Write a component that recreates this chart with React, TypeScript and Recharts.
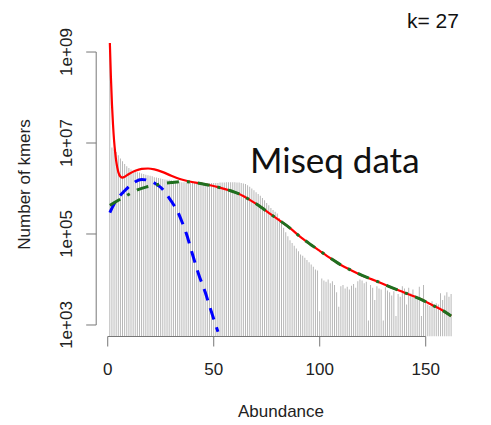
import React from 'react';
import { ComposedChart, Bar, Line, XAxis, YAxis, ReferenceLine, Customized } from 'recharts';

// Abundance categories (1..162)
const abundance: number[] = Array.from({ length: 162 }, (_, i) => i + 1);

// Histogram counts, log10 scale
const histLog10: number[] = [
  9.08, 6.90, 6.86, 6.80, 6.73, 6.66, 6.60, 6.54, 6.49, 6.45,
  6.42, 6.40, 6.38, 6.36, 6.35, 6.33, 6.32, 6.30, 6.29, 6.28,
  6.27, 6.25, 6.24, 6.23, 6.22, 6.21, 6.20, 6.19, 6.19, 6.18,
  6.17, 6.16, 6.16, 6.15, 6.14, 6.14, 6.13, 6.13, 6.12, 6.12,
  6.12, 6.11, 6.11, 6.11, 6.11, 6.11, 6.11, 6.11, 6.12, 6.12,
  6.12, 6.12, 6.13, 6.13, 6.13, 6.14, 6.14, 6.14, 6.14, 6.14,
  6.13, 6.13, 6.12, 6.11, 6.10, 6.07, 6.04, 6.00, 5.96, 5.92,
  5.88, 5.84, 5.79, 5.74, 5.68, 5.63, 5.57, 5.53, 5.49, 5.45,
  5.35, 5.25, 5.14, 5.04, 4.95, 4.86, 4.80, 4.74, 4.68, 4.62,
  4.55, 4.52, 4.48, 4.43, 4.38, 4.33, 4.28, 4.22, 4.20, 3.30,
  4.02, 3.98, 3.95, 4.00, 3.92, 3.96, 3.88, 3.72, 3.40, 3.85,
  3.88, 3.80, 3.84, 3.78, 3.86, 3.90, 3.82, 3.96, 4.00, 3.98,
  3.92, 3.95, 3.10, 3.88, 3.82, 3.55, 3.85, 3.80, 3.78, 3.10,
  3.83, 3.76, 3.72, 3.65, 3.74, 3.20, 3.68, 3.62, 3.85, 3.80,
  3.45, 3.82, 3.70, 3.78, 3.66, 3.60, 3.84, 3.20, 3.88, 3.50,
  3.45, 3.42, 3.52, 3.40, 3.48, 3.45, 3.70, 3.55, 3.65, 3.72,
  3.62, 3.68,
];

// Full model fit (red), log10
const fullX: number[] = [1, 1.5, 2, 2.5, 3, 3.5, 4, 5, 6, 7, 8, 10, 13, 16, 19, 22, 26, 30, 34, 38, 45, 52, 58, 62, 67, 72, 77, 81, 86, 91, 96, 100, 105, 110, 115, 120, 128, 134, 140, 147, 153, 158, 162];
const fullLog10: number[] = [9.2, 8.45, 7.85, 7.4, 7.05, 6.8, 6.6, 6.36, 6.26, 6.24, 6.26, 6.32, 6.39, 6.43, 6.44, 6.42, 6.36, 6.28, 6.21, 6.16, 6.1, 6.03, 5.95, 5.88, 5.75, 5.6, 5.43, 5.3, 5.13, 4.93, 4.76, 4.63, 4.47, 4.32, 4.2, 4.09, 3.94, 3.82, 3.71, 3.58, 3.44, 3.32, 3.2];

// Unique-sequence peak (blue dashed), log10
const uniqueX: number[] = [1, 3, 5, 8, 11, 13, 16, 19, 22, 24, 26, 28.5, 31, 33, 35, 37, 40, 43, 46, 48, 50, 52];
const uniqueLog10: number[] = [5.47, 5.66, 5.8, 5.95, 6.08, 6.15, 6.2, 6.18, 6.12, 6.06, 5.98, 5.82, 5.65, 5.49, 5.27, 5.02, 4.55, 4.1, 3.72, 3.42, 3.13, 2.85];

// Repeat component (green dash-dot), log10
const repeatX: number[] = [1, 5, 8, 11, 14, 18, 22, 26, 30, 35, 40, 45, 52, 58, 62, 67, 72, 77, 81, 86, 91, 96, 100, 105, 110, 115, 120, 128, 134, 140, 147, 153, 158, 162];
const repeatLog10: number[] = [5.63, 5.74, 5.82, 5.9, 5.97, 6.03, 6.07, 6.11, 6.13, 6.15, 6.14, 6.1, 6.03, 5.95, 5.88, 5.75, 5.6, 5.43, 5.3, 5.13, 4.93, 4.76, 4.63, 4.47, 4.32, 4.2, 4.09, 3.94, 3.82, 3.71, 3.58, 3.44, 3.32, 3.2];

const xTicks: number[] = [0, 50, 100, 150];
const yTicks: number[] = [3, 5, 7, 9];
const yTickLabels: string[] = ['1e+03', '1e+05', '1e+07', '1e+09'];

const barTable = abundance.map((x, i) => ({ x, y: histLog10[i] }));
const fullTable = fullX.map((x, i) => ({ x, y: fullLog10[i] }));
const uniqueTable = uniqueX.map((x, i) => ({ x, y: uniqueLog10[i] }));
const repeatTable = repeatX.map((x, i) => ({ x, y: repeatLog10[i] }));

const FONT = "'Liberation Sans', Arial, sans-serif";
const X_MIN = -5.44;
const X_MAX = 168.44;
const Y_MIN = 2.747;
const Y_MAX = 9.484;

const XTick = (props: any) => {
  const { x, payload } = props;
  return (
    <text x={x} y={367} textAnchor="middle" fontSize={17} fontFamily={FONT} fill="#222">
      {payload.value}
    </text>
  );
};

const YTick = (props: any) => {
  const { y, payload } = props;
  const idx = yTicks.indexOf(payload.value);
  const label = idx >= 0 ? yTickLabels[idx] : String(payload.value);
  return (
    <text x={64} y={y} transform={`rotate(-90, 64, ${y})`} textAnchor="middle" fontSize={17} fontFamily={FONT} fill="#222">
      {label}
    </text>
  );
};

const Texts = () => (
  <g>
    <text x={22} y={176.5} transform="rotate(-90, 22, 176.5)" textAnchor="middle" fontSize={17} fontFamily={FONT} fill="#222">
      Number of kmers
    </text>
    <text x={273} y={409} textAnchor="middle" fontSize={17} fontFamily={FONT} fill="#222">
      Abundance
    </text>
    <text x={399} y={19.5} fontSize={21} fontFamily={FONT} fill="#111">
      k= 27
    </text>
    <text x={242} y={165.3} fontSize={35} fontFamily="Lato, 'Open Sans', sans-serif" fill="#111">
      Miseq data
    </text>
  </g>
);

export default function App() {
  return (
    <div style={{ width: 483, height: 409 }}>
      <style>{`#root svg { overflow: visible; }`}</style>
      <ComposedChart
        width={483}
        height={409}
        data={barTable}
        margin={{ top: 22, right: 26.2, left: 0.2, bottom: 0 }}
        barCategoryGap={0}
      >
        <XAxis
          dataKey="x"
          type="number"
          domain={[X_MIN, X_MAX]}
          allowDataOverflow
          ticks={xTicks}
          interval={0}
          height={80.5}
          axisLine={false}
          tickLine={{ stroke: '#777' }}
          tickSize={10}
          tick={<XTick />}
        />
        <YAxis
          type="number"
          domain={[Y_MIN, Y_MAX]}
          allowDataOverflow
          ticks={yTicks}
          interval={0}
          width={88}
          axisLine={false}
          tickLine={{ stroke: '#777' }}
          tickSize={10}
          tick={<YTick />}
        />
        <Bar dataKey="y" fill="#b4b4b4" barSize={1.2} isAnimationActive={false} />
        <Line data={fullTable} dataKey="y" type="monotone" dot={false} stroke="#ff0000" strokeWidth={2.2} isAnimationActive={false} />
        <Line data={uniqueTable} dataKey="y" type="monotone" dot={false} stroke="#0000ff" strokeWidth={3} strokeDasharray="12 8" isAnimationActive={false} />
        <Line data={repeatTable} dataKey="y" type="monotone" dot={false} stroke="#1f6f1f" strokeWidth={3} strokeDasharray="12 8 3 8" isAnimationActive={false} />
        <ReferenceLine segment={[{ x: X_MIN, y: 3 }, { x: X_MIN, y: 9 }]} stroke="#777" ifOverflow="visible" />
        <ReferenceLine segment={[{ x: 0, y: Y_MIN }, { x: 150, y: Y_MIN }]} stroke="#777" ifOverflow="visible" />
        <Customized component={Texts} />
      </ComposedChart>
    </div>
  );
}
